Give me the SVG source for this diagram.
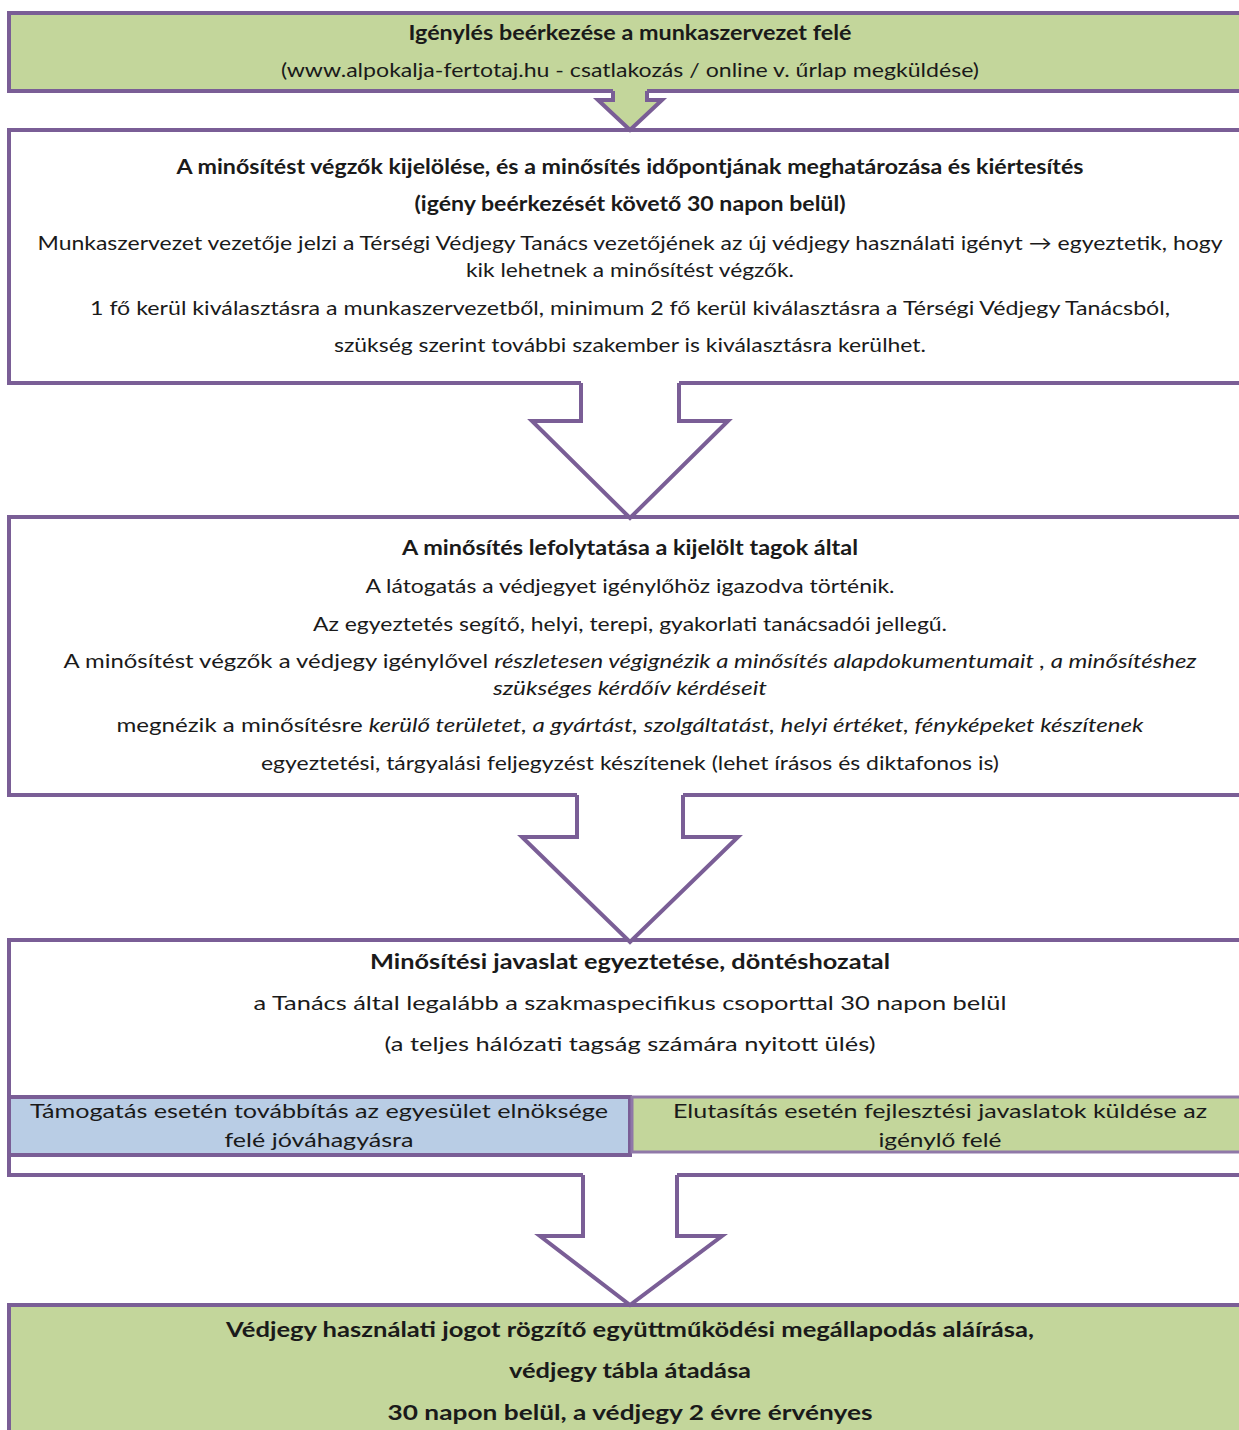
<svg xmlns="http://www.w3.org/2000/svg" width="1239" height="1430" viewBox="0 0 1239 1430">
<style>
.box{stroke:#7a5e96;stroke-width:4}
.g{fill:#c3d69b}
.w{fill:#ffffff}
.b{fill:#b9cde5}
.arr{fill:none;stroke:#7a5e96;stroke-width:4;stroke-linejoin:miter}
text{font-family:Lato,"Open Sans","Liberation Sans",sans-serif;font-size:20px;fill:#1a1a1a;text-anchor:middle}
.bd{font-weight:bold}
.i{font-style:italic}
</style>
<rect width="1239" height="1430" fill="#ffffff"/>
<g id="node1">
<rect class="box g" x="9" y="13" width="1240" height="78"/>
<text class="bd" x="630" y="40" textLength="443" lengthAdjust="spacingAndGlyphs">Igénylés  beérkezése a munkaszervezet felé</text>
<text x="630" y="77" textLength="698" lengthAdjust="spacingAndGlyphs">(www.alpokalja-fertotaj.hu - csatlakozás / online v. űrlap megküldése)</text>
</g>
<g id="node2">
<rect class="box w" x="9" y="130" width="1240" height="253"/>
<text class="bd" x="630" y="174" textLength="907" lengthAdjust="spacingAndGlyphs">A minősítést végzők kijelölése, és a minősítés időpontjának  meghatározása és kiértesítés</text>
<text class="bd" x="630" y="211" textLength="431" lengthAdjust="spacingAndGlyphs">(igény beérkezését követő 30 napon belül)</text>
<text x="630" y="250" textLength="1185" lengthAdjust="spacingAndGlyphs">Munkaszervezet vezetője jelzi a Térségi Védjegy Tanács vezetőjének az új védjegy használati igényt → egyeztetik, hogy</text>
<text x="630" y="277" textLength="328" lengthAdjust="spacingAndGlyphs">kik lehetnek a minősítést végzők.</text>
<text x="630" y="315" textLength="1080" lengthAdjust="spacingAndGlyphs">1 fő kerül kiválasztásra a munkaszervezetből,  minimum 2 fő kerül kiválasztásra a Térségi Védjegy Tanácsból,</text>
<text x="630" y="352" textLength="592" lengthAdjust="spacingAndGlyphs">szükség szerint további szakember is kiválasztásra kerülhet.</text>
</g>
<g id="node3">
<rect class="box w" x="9" y="517" width="1240" height="278"/>
<text class="bd" x="630" y="555" textLength="456" lengthAdjust="spacingAndGlyphs">A minősítés lefolytatása  a kijelölt tagok által</text>
<text x="630" y="593" textLength="529" lengthAdjust="spacingAndGlyphs">A látogatás a védjegyet igénylőhöz igazodva történik.</text>
<text x="630" y="631" textLength="634" lengthAdjust="spacingAndGlyphs">Az egyeztetés segítő, helyi, terepi, gyakorlati tanácsadói jellegű.</text>
<text x="630" y="668" textLength="1133" lengthAdjust="spacingAndGlyphs">A minősítést végzők a védjegy igénylővel <tspan class="i">részletesen végignézik  a minősítés alapdokumentumait , a minősítéshez</tspan></text>
<text class="i" x="630" y="695" textLength="274" lengthAdjust="spacingAndGlyphs">szükséges kérdőív kérdéseit</text>
<text x="630" y="732" textLength="1027" lengthAdjust="spacingAndGlyphs">megnézik a minősítésre <tspan class="i">kerülő területet, a gyártást, szolgáltatást, helyi értéket, fényképeket készítenek</tspan></text>
<text x="630" y="770" textLength="738" lengthAdjust="spacingAndGlyphs">egyeztetési, tárgyalási feljegyzést készítenek (lehet írásos és diktafonos is)</text>
</g>
<g id="node4">
<rect class="box w" x="9" y="940" width="1240" height="235"/>
<text class="bd" x="630" y="969" textLength="520" lengthAdjust="spacingAndGlyphs">Minősítési javaslat egyeztetése, döntéshozatal</text>
<text x="630" y="1010" textLength="753" lengthAdjust="spacingAndGlyphs">a Tanács által legalább a szakmaspecifikus csoporttal  30 napon belül</text>
<text x="630" y="1051" textLength="491" lengthAdjust="spacingAndGlyphs">(a teljes hálózati tagság számára nyitott ülés)</text>
</g>
<g id="node4a">
<rect class="box b" x="9" y="1097" width="621" height="58"/>
<text x="319" y="1118" textLength="578" lengthAdjust="spacingAndGlyphs">Támogatás esetén továbbítás az egyesület elnöksége</text>
<text x="319" y="1147" textLength="189" lengthAdjust="spacingAndGlyphs">felé jóváhagyásra</text>
</g>
<g id="node4b">
<rect class="g" x="632" y="1097" width="615" height="55" stroke="#8f78a8" stroke-width="3"/>
<text x="940" y="1118" textLength="534" lengthAdjust="spacingAndGlyphs">Elutasítás esetén fejlesztési javaslatok küldése az</text>
<text x="940" y="1147" textLength="123" lengthAdjust="spacingAndGlyphs">igénylő felé</text>
</g>
<g id="node5">
<rect class="box g" x="9" y="1305" width="1240" height="140"/>
<text class="bd" x="630" y="1337" textLength="808" lengthAdjust="spacingAndGlyphs">Védjegy használati jogot rögzítő együttműködési megállapodás aláírása,</text>
<text class="bd" x="630" y="1378" textLength="242" lengthAdjust="spacingAndGlyphs">védjegy tábla átadása</text>
<text class="bd" x="630" y="1420" textLength="485" lengthAdjust="spacingAndGlyphs">30 napon belül,  a védjegy  2 évre érvényes</text>
</g>
<g id="connectors">
<polygon class="g" points="613,89 647,89 647,100 662,100 630,130 598,100 613,100"/>
<polyline class="arr" points="613,91 613,100 598,100 630,130 662,100 647,100 647,91"/>
<polygon class="w" points="581,381 679,381 679,421 728,421 630,516 532,421 581,421"/>
<polyline class="arr" points="581,383 581,421 532,421 630,518 728,421 679,421 679,383"/>
<polygon class="w" points="577,793 683,793 683,837 738,837 630,940 522,837 577,837"/>
<polyline class="arr" points="577,795 577,837 522,837 630,942 738,837 683,837 683,795"/>
<polygon class="w" points="583,1173 677,1173 677,1236 722,1236 630,1303 540,1236 583,1236"/>
<polyline class="arr" points="583,1175 583,1236 540,1236 630,1305 722,1236 677,1236 677,1175"/>
</g>
</svg>
